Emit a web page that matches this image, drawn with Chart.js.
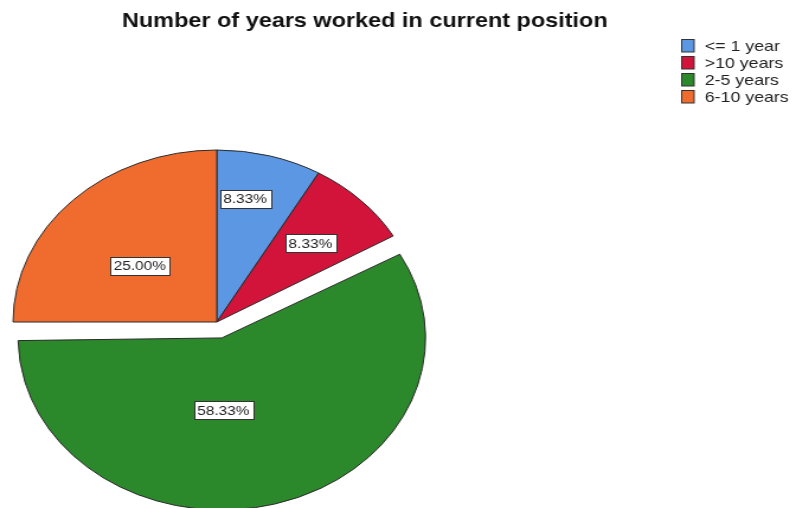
<!DOCTYPE html>
<html>
<head>
<meta charset="utf-8">
<script src="https://cdn.jsdelivr.net/npm/chart.js"></script>
<style>
html,body{margin:0;padding:0;background:#fff;overflow:hidden}
/* SPSS output looks stretched sideways, so draw narrow and stretch the whole canvas */
#wrap{position:absolute;left:0;top:0;width:672px;height:508px;transform:scaleX(1.1845);transform-origin:0 0}
</style>
</head>
<body>
<div id="wrap"><canvas id="myChart"></canvas></div>
<script>
const chartTitle = 'Number of years worked in current position';
const categories = ['<= 1 year', '>10 years', '2-5 years', '6-10 years'];
const percents = [8.33, 8.33, 58.33, 25.00];
const sliceColors = ['#5b97e2', '#d3143a', '#2b882b', '#f06c2e'];
// chart.js v4 moves an arc by offset/4 (and grows it by the same), so 66 -> ~16px explode
const sliceOffsets = [0, 0, 66, 0];

// where the % boxes sit: fraction of radius and small angle nudge (deg)
const labelFrac = [0.73, 0.65, 0.42, 0.5];
const labelNudge = [-4, 0, 14, -4];

const FONT = '"Liberation Sans", Arial, sans-serif';

const spssPlugin = {
    id: 'spss',
    afterDatasetUpdate(chart, args) {
        // keep exploded slice the same size as the rest
        args.meta.data.forEach(function(arc, i){
            if (sliceOffsets[i]) arc.outerRadius -= sliceOffsets[i] / 4;
        });
    },
    afterDraw(chart) {
        const ctx = chart.ctx;
        ctx.save();
        // title
        ctx.fillStyle = '#111';
        ctx.font = 'bold 19.8px ' + FONT;
        ctx.textAlign = 'center';
        ctx.textBaseline = 'alphabetic';
        ctx.fillText(chartTitle, 308, 27);

        // legend
        ctx.font = '15px ' + FONT;
        ctx.textAlign = 'left';
        ctx.textBaseline = 'middle';
        categories.forEach(function(c, i){
            var y = 45.5 + i * 17;
            ctx.fillStyle = sliceColors[i];
            ctx.fillRect(575, y - 6.5, 11, 13);
            ctx.strokeStyle = '#333';
            ctx.lineWidth = 1;
            ctx.strokeRect(575.5, y - 6, 10.5, 12.5);
            ctx.fillStyle = '#222';
            ctx.fillText(c, 595, y + 1);
        });

        // value boxes
        var meta = chart.getDatasetMeta(0);
        var R = meta.controller.outerRadius;
        ctx.font = '13px ' + FONT;
        ctx.textAlign = 'center';
        meta.data.forEach(function(arc, i){
            var p = arc.getProps(['x','y','startAngle','endAngle']);
            var mid = (p.startAngle + p.endAngle) / 2;
            var off = sliceOffsets[i] / 4;
            var cx = p.x + Math.cos(mid) * off;
            var cy = p.y + Math.sin(mid) * off;
            var a = mid + labelNudge[i] * Math.PI / 180;
            var lx = cx + Math.cos(a) * R * labelFrac[i];
            var ly = cy + Math.sin(a) * R * labelFrac[i];
            var txt = percents[i].toFixed(2) + '%';
            var w = ctx.measureText(txt).width + 6;
            var h = 18;
            ctx.fillStyle = '#fff';
            ctx.fillRect(Math.round(lx - w/2), Math.round(ly - h/2), Math.round(w), h);
            ctx.strokeStyle = '#333';
            ctx.strokeRect(Math.round(lx - w/2) + 0.5, Math.round(ly - h/2) + 0.5, Math.round(w), h);
            ctx.fillStyle = '#222';
            ctx.fillText(txt, lx, ly + 1);
        });
        ctx.restore();
    }
};

var myChart = document.getElementById('myChart').getContext('2d');
var chart = new Chart(myChart, {
    type: 'pie',
    data: {
        labels: categories,
        datasets: [{
            data: percents,
            backgroundColor: sliceColors,
            borderColor: '#2a2a2a',
            borderWidth: 1,
            offset: sliceOffsets
        }]
    },
    options: {
        responsive: true,
        maintainAspectRatio: false,
        animation: false,
        radius: 172,
        layout: { padding: { left: 0, right: 306, top: 136, bottom: 0 } },
        plugins: {
            legend: { display: false },
            title: { display: false },
            tooltip: { enabled: false }
        }
    },
    plugins: [spssPlugin]
});
</script>
</body>
</html>
